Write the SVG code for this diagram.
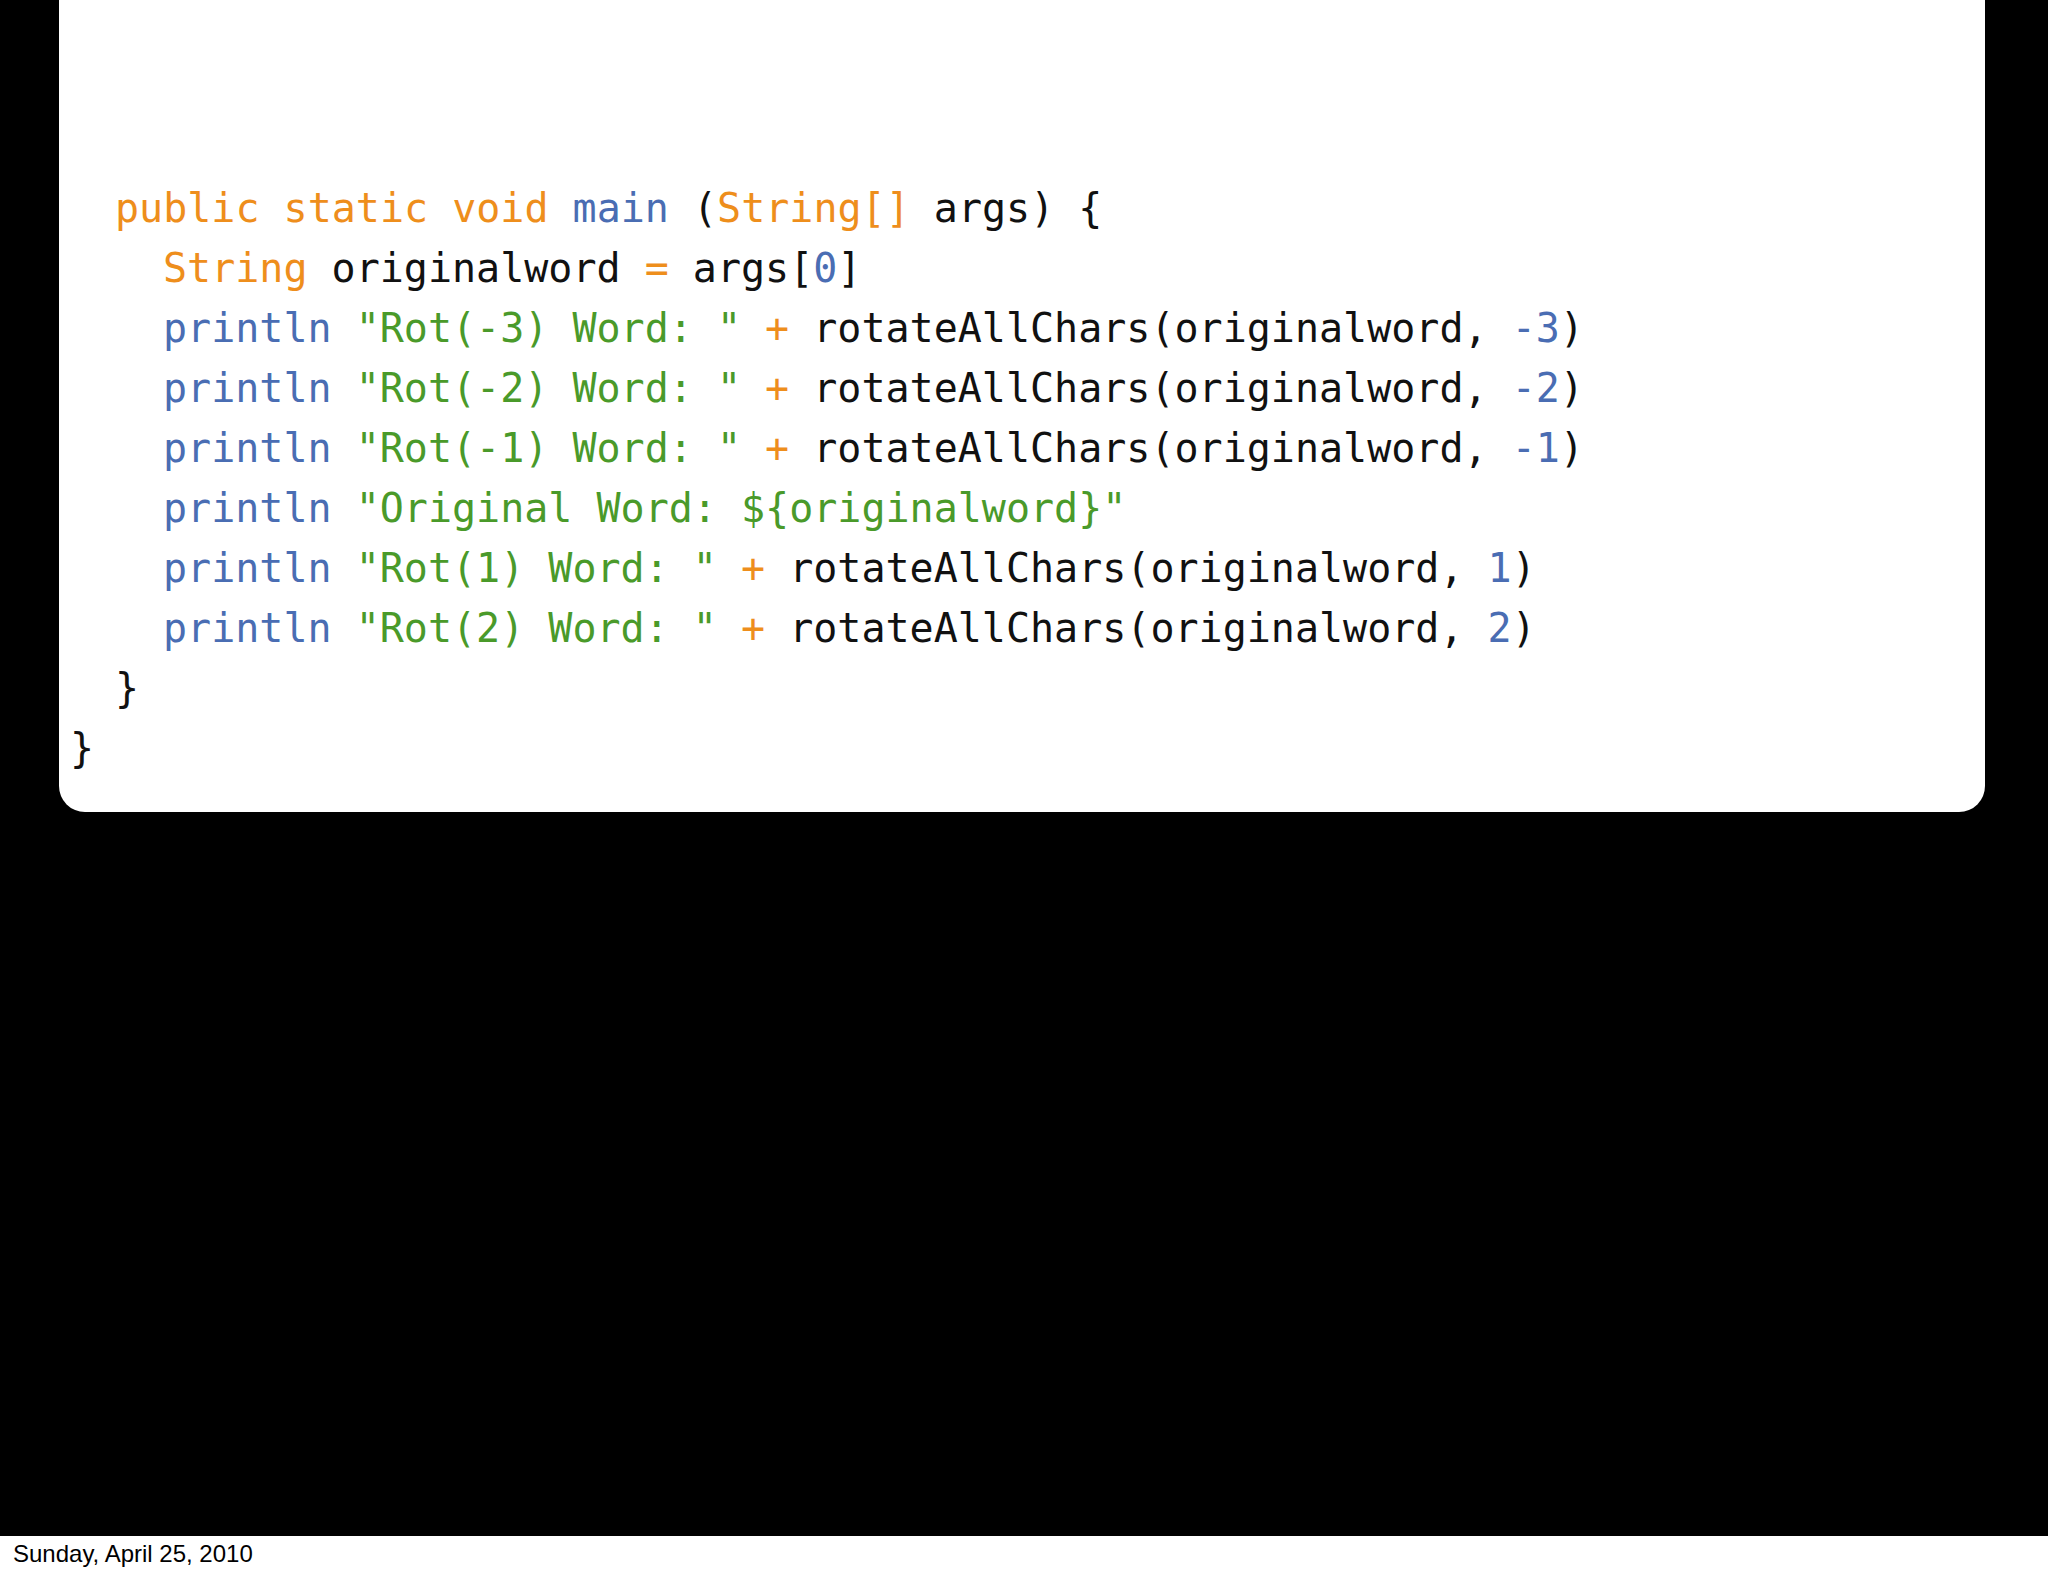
<svg xmlns="http://www.w3.org/2000/svg" width="2048" height="1576" viewBox="0 0 2048 1576">
<style>
.c{font-family:"DejaVu Sans Mono",monospace;font-size:40px;fill:#111}
.o{fill:#EE8E1C}.b{fill:#4A6DB3}.g{fill:#4A9A2A}
</style>
<rect width="2048" height="1576" fill="#000"/>
<path d="M59 0H1985V786a26 26 0 0 1-26 26H85a26 26 0 0 1-26-26Z" fill="#fff"/>
<rect y="1536" width="2048" height="40" fill="#fff"/>
<g id="code" xml:space="preserve">
<text class="c" x="115" y="222"><tspan class="o">public static void</tspan> <tspan class="b">main</tspan> (<tspan class="o">String[]</tspan> args) {</text>
<text class="c" x="163" y="282"><tspan class="o">String</tspan> originalword <tspan class="o">=</tspan> args[<tspan class="b">0</tspan>]</text>
<text class="c" x="163" y="342"><tspan class="b">println</tspan> <tspan class="g">"Rot(-3)  Word: "</tspan> <tspan class="o">+</tspan> rotateAllChars(originalword, <tspan class="b">-3</tspan>)</text>
<text class="c" x="163" y="402"><tspan class="b">println</tspan> <tspan class="g">"Rot(-2)  Word: "</tspan> <tspan class="o">+</tspan> rotateAllChars(originalword, <tspan class="b">-2</tspan>)</text>
<text class="c" x="163" y="462"><tspan class="b">println</tspan> <tspan class="g">"Rot(-1)  Word: "</tspan> <tspan class="o">+</tspan> rotateAllChars(originalword, <tspan class="b">-1</tspan>)</text>
<text class="c" x="163" y="522"><tspan class="b">println</tspan> <tspan class="g">"Original Word: ${originalword}"</tspan></text>
<text class="c" x="163" y="582"><tspan class="b">println</tspan> <tspan class="g">"Rot(1)   Word: "</tspan> <tspan class="o">+</tspan> rotateAllChars(originalword, <tspan class="b">1</tspan>)</text>
<text class="c" x="163" y="642"><tspan class="b">println</tspan> <tspan class="g">"Rot(2)   Word: "</tspan> <tspan class="o">+</tspan> rotateAllChars(originalword, <tspan class="b">2</tspan>)</text>
<text class="c" x="115" y="702">}</text>
<text class="c" x="70" y="762">}</text>
</g>
<text x="13" y="1562" font-family="Liberation Sans, sans-serif" font-size="24" fill="#000">Sunday, April 25, 2010</text>
</svg>
